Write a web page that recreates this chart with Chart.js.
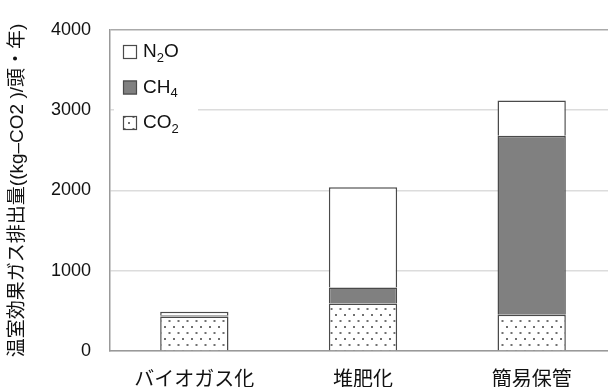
<!DOCTYPE html>
<html>
<head>
<meta charset="utf-8">
<script src="https://cdn.jsdelivr.net/npm/chart.js@4"></script>
<style>
  html, body { margin: 0; padding: 0; background: #fff; overflow: hidden; }
</style>
</head>
<body>
<canvas id="chart" width="620" height="387"></canvas>
<script>
const categories = ["バイオガス化", "堆肥化", "簡易保管"];
const co2Values = [430, 590, 450];
const ch4Values = [15, 200, 2230];
const n2oValues = [45, 1250, 440];
const yTicks = [0, 1000, 2000, 3000, 4000];

/* dotted fill used for CO2 */
function dotPattern() {
    const c = document.createElement("canvas");
    c.width = 9;
    c.height = 12;
    const g = c.getContext("2d");
    g.fillStyle = "#fff";
    g.fillRect(0, 0, 9, 12);
    g.fillStyle = "#707070";
    g.fillRect(2, 2, 2, 2);
    g.fillRect(6.5, 8, 2, 2);
    return g.createPattern(c, "repeat");
}
const dots = dotPattern();

const edge = "#4a4a4a";

/* legend drawn inside the plot, with subscripts */
const insideLegend = {
    id: "insideLegend",
    afterDraw(chart) {
        const ctx = chart.ctx;
        const area = chart.chartArea;
        ctx.save();
        ctx.fillStyle = "#fff";
        ctx.fillRect(area.left + 4, area.top + 4, 84, 114);
        const items = chart.data.datasets.slice().reverse();
        items.forEach((ds, i) => {
            const cy = 52 + i * 35.5;
            const bx = 123;
            ctx.fillStyle = ds.backgroundColor;
            ctx.fillRect(bx, cy - 7, 14, 14);
            ctx.strokeStyle = edge;
            ctx.lineWidth = 1.2;
            ctx.strokeRect(bx + 0.5, cy - 6.5, 13, 13);
            let x = 143;
            ctx.fillStyle = "#111";
            ctx.textBaseline = "middle";
            for (const ch of ds.label) {
                if (/[0-9]/.test(ch)) {
                    ctx.font = "13px 'Liberation Sans', Arial, sans-serif";
                    ctx.fillText(ch, x, cy + 6);
                } else {
                    ctx.font = "19px 'Liberation Sans', Arial, sans-serif";
                    ctx.fillText(ch, x, cy);
                }
                x += ctx.measureText(ch).width;
            }
        });
        ctx.restore();
    }
};

const config = {
    type: "bar",
    data: {
        labels: categories,
        datasets: [
            {
                label: "CO2",
                data: co2Values,
                backgroundColor: dots,
                borderColor: edge,
                borderWidth: 1.5,
            },
            {
                label: "CH4",
                data: ch4Values,
                backgroundColor: "#808080",
                borderColor: edge,
                borderWidth: 1.5,
            },
            {
                label: "N2O",
                data: n2oValues,
                backgroundColor: "#ffffff",
                borderColor: edge,
                borderWidth: 1.5,
            },
        ],
    },
    options: {
        responsive: false,
        animation: false,
        layout: { padding: { top: 26, right: 4, left: 0, bottom: 0 } },
        datasets: {
            bar: { barPercentage: 0.405, categoryPercentage: 1 },
        },
        scales: {
            x: {
                stacked: true,
                grid: { display: false },
                border: { color: "#999", width: 1.5 },
                ticks: {
                    color: "#111",
                    padding: 7,
                    font: { family: "'Noto Sans CJK JP', sans-serif", size: 20 },
                },
                afterFit: (scale) => { scale.height = 36; },
            },
            y: {
                stacked: true,
                min: 0,
                max: 4000,
                afterBuildTicks: (scale) => {
                    scale.ticks = yTicks.map((v) => ({ value: v }));
                },
                grid: {
                    drawTicks: false,
                    color: (c) => (c.tick && c.tick.value === 4000 ? "#aaa" : "#dcdcdc"),
                    lineWidth: 1.5,
                },
                border: { color: "#999", width: 1.5 },
                ticks: {
                    color: "#111",
                    padding: 19,
                    callback: (v) => String(v),
                    font: { family: "'Liberation Sans', Arial, sans-serif", size: 18 },
                },
                title: {
                    display: true,
                    text: "温室効果ガス排出量((kg‒CO2 )/頭・年)",
                    color: "#111",
                    padding: { top: 6, bottom: 0 },
                    font: { family: "'Liberation Sans', 'Noto Sans CJK JP', sans-serif", size: 19 },
                },
                afterFit: (scale) => { scale.width = 110; },
            },
        },
        plugins: {
            legend: { display: false },
            tooltip: { enabled: false },
        },
    },
    plugins: [insideLegend],
};

new Chart(document.getElementById("chart"), config);
</script>
</body>
</html>
